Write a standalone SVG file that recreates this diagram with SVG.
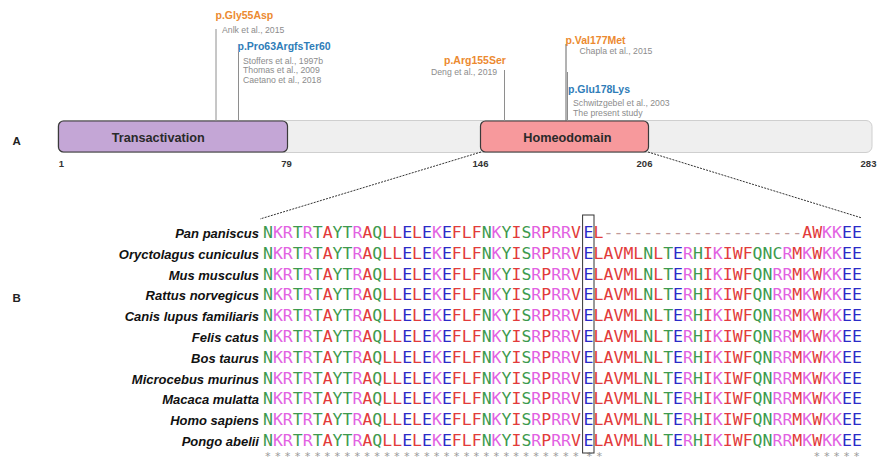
<svg xmlns="http://www.w3.org/2000/svg" width="877" height="463" viewBox="0 0 877 463">
<style>
.mut{font-family:"Liberation Sans",Arial,sans-serif;font-weight:bold;font-size:10.5px}
.or{fill:#ec8a30}
.bl{fill:#2f7db8}
.ref{font-family:"Liberation Sans",Arial,sans-serif;font-size:8.7px;fill:#8c8c8c}
.stem{stroke:#8e8e8e;stroke-width:1}
.num{font-family:"Liberation Sans",Arial,sans-serif;font-weight:bold;font-size:9.5px;fill:#333;text-anchor:middle}
.dom{stroke:#3a3a3a;stroke-width:1.2}
.domlab{font-family:"Liberation Sans",Arial,sans-serif;font-weight:bold;font-size:12.7px;fill:#2a2a2a}
.panel{font-family:"Liberation Sans",Arial,sans-serif;font-weight:bold;font-size:11.5px;fill:#222}
.sp{font-family:"Liberation Sans",Arial,sans-serif;font-style:italic;font-weight:bold;font-size:13px;text-anchor:end;fill:#111}
.seq{font-family:"DejaVu Sans Mono",monospace;font-size:16.5px}
.g{fill:#3d9a4e}.m{fill:#e262e2}.r{fill:#e23b3b}.b{fill:#2b2bc8}.gap{fill:#c09a9a}
.star{font-family:"DejaVu Sans Mono",monospace;font-size:11px;letter-spacing:3.31px;fill:#9a9a9a}
.zoomln{stroke:#333;stroke-width:1;stroke-dasharray:2 1.2;fill:none}
</style>

<g id="panel-labels">
<text class="panel" x="12.5" y="144.5">A</text>
<text class="panel" x="12.5" y="302">B</text>
</g>

<g id="protein-bar">
<rect x="58" y="120.5" width="814" height="32" rx="6" fill="#efefef" stroke="#cfcfcf"/>
</g>
<g id="transactivation">
<rect class="dom" x="58.5" y="121" width="229" height="31" rx="5" fill="#c4a6d6"/>
<text class="domlab" x="111.7" y="141.7">Transactivation</text>
</g>
<g id="homeodomain">
<rect class="dom" x="480.5" y="121" width="168" height="31" rx="5" fill="#f7999c"/>
<text class="domlab" x="523.3" y="141.7">Homeodomain</text>
</g>
<g id="positions">
<text class="num" x="61.5" y="167">1</text>
<text class="num" x="286.5" y="167">79</text>
<text class="num" x="480.5" y="167">146</text>
<text class="num" x="644.5" y="167">206</text>
<text class="num" x="868.5" y="167">283</text>
</g>

<g id="connectors">
<line class="stem" x1="216" y1="29" x2="216" y2="121"/>
<line class="stem" x1="238.5" y1="52" x2="238.5" y2="121"/>
<line class="stem" x1="504.5" y1="70" x2="504.5" y2="121"/>
<line class="stem" x1="566" y1="44" x2="566" y2="121" style="stroke:#666"/>
<line class="stem" x1="567.5" y1="72" x2="567.5" y2="121"/>
<path class="zoomln" d="M481,152 L260,219"/>
<path class="zoomln" d="M648,152 L862,218"/>
</g>

<g id="mut-gly55asp">
<text class="mut or" x="215.5" y="19">p.Gly55Asp</text>
<text class="ref" x="222" y="32.5">Anlk et al., 2015</text>
</g>
<g id="mut-pro63">
<text class="mut bl" x="237.5" y="50">p.Pro63ArgfsTer60</text>
<text class="ref" x="243" y="63.5">Stoffers et al., 1997b</text>
<text class="ref" x="243" y="73.3">Thomas et al., 2009</text>
<text class="ref" x="243" y="83.1">Caetano et al., 2018</text>
</g>
<g id="mut-arg155ser">
<text class="mut or" x="444" y="63.5">p.Arg155Ser</text>
<text class="ref" x="431" y="75">Deng et al., 2019</text>
</g>
<g id="mut-val177met">
<text class="mut or" x="565.5" y="44">p.Val177Met</text>
<text class="ref" x="579.5" y="53.5">Chapla et al., 2015</text>
</g>
<g id="mut-glu178lys">
<text class="mut bl" x="568" y="93">p.Glu178Lys</text>
<text class="ref" x="573" y="105.5">Schwitzgebel et al., 2003</text>
<text class="ref" x="573" y="115.5">The present study</text>
</g>

<g id="species">
<text class="sp" x="259" y="238">Pan paniscus</text>
<text class="sp" x="259" y="258.8">Oryctolagus cuniculus</text>
<text class="sp" x="259" y="279.6">Mus musculus</text>
<text class="sp" x="259" y="300.4">Rattus norvegicus</text>
<text class="sp" x="259" y="321.2">Canis lupus familiaris</text>
<text class="sp" x="259" y="342">Felis catus</text>
<text class="sp" x="259" y="362.8">Bos taurus</text>
<text class="sp" x="259" y="383.6">Microcebus murinus</text>
<text class="sp" x="259" y="404.4">Macaca mulatta</text>
<text class="sp" x="259" y="425.2">Homo sapiens</text>
<text class="sp" x="259" y="446">Pongo abelii</text>
</g>

<g id="alignment">
<text class="seq" x="263" y="238"><tspan class="g">N</tspan><tspan class="m">KR</tspan><tspan class="g">T</tspan><tspan class="m">R</tspan><tspan class="g">T</tspan><tspan class="r">A</tspan><tspan class="g">YT</tspan><tspan class="m">R</tspan><tspan class="r">A</tspan><tspan class="g">Q</tspan><tspan class="r">LL</tspan><tspan class="b">E</tspan><tspan class="r">L</tspan><tspan class="b">E</tspan><tspan class="m">K</tspan><tspan class="b">E</tspan><tspan class="r">FLF</tspan><tspan class="g">N</tspan><tspan class="m">K</tspan><tspan class="g">Y</tspan><tspan class="r">I</tspan><tspan class="g">S</tspan><tspan class="m">R</tspan><tspan class="r">P</tspan><tspan class="m">RR</tspan><tspan class="r">V</tspan><tspan class="b" x="583.4">E</tspan><tspan class="r" x="593.6">L</tspan><tspan class="gap">--------------------</tspan><tspan class="r">AW</tspan><tspan class="m">KK</tspan><tspan class="b">EE</tspan></text>
<text class="seq" x="263" y="258.8"><tspan class="g">N</tspan><tspan class="m">KR</tspan><tspan class="g">T</tspan><tspan class="m">R</tspan><tspan class="g">T</tspan><tspan class="r">A</tspan><tspan class="g">YT</tspan><tspan class="m">R</tspan><tspan class="r">A</tspan><tspan class="g">Q</tspan><tspan class="r">LL</tspan><tspan class="b">E</tspan><tspan class="r">L</tspan><tspan class="b">E</tspan><tspan class="m">K</tspan><tspan class="b">E</tspan><tspan class="r">FLF</tspan><tspan class="g">N</tspan><tspan class="m">K</tspan><tspan class="g">Y</tspan><tspan class="r">I</tspan><tspan class="g">S</tspan><tspan class="m">R</tspan><tspan class="r">P</tspan><tspan class="m">RR</tspan><tspan class="r">V</tspan><tspan class="b" x="583.4">E</tspan><tspan class="r" x="593.6">LAVML</tspan><tspan class="g">N</tspan><tspan class="r">L</tspan><tspan class="g">T</tspan><tspan class="b">E</tspan><tspan class="m">R</tspan><tspan class="g">H</tspan><tspan class="r">I</tspan><tspan class="m">K</tspan><tspan class="r">IWF</tspan><tspan class="g">QNC</tspan><tspan class="m">R</tspan><tspan class="r">M</tspan><tspan class="m">K</tspan><tspan class="r">W</tspan><tspan class="m">KK</tspan><tspan class="b">EE</tspan></text>
<text class="seq" x="263" y="279.6"><tspan class="g">N</tspan><tspan class="m">KR</tspan><tspan class="g">T</tspan><tspan class="m">R</tspan><tspan class="g">T</tspan><tspan class="r">A</tspan><tspan class="g">YT</tspan><tspan class="m">R</tspan><tspan class="r">A</tspan><tspan class="g">Q</tspan><tspan class="r">LL</tspan><tspan class="b">E</tspan><tspan class="r">L</tspan><tspan class="b">E</tspan><tspan class="m">K</tspan><tspan class="b">E</tspan><tspan class="r">FLF</tspan><tspan class="g">N</tspan><tspan class="m">K</tspan><tspan class="g">Y</tspan><tspan class="r">I</tspan><tspan class="g">S</tspan><tspan class="m">R</tspan><tspan class="r">P</tspan><tspan class="m">RR</tspan><tspan class="r">V</tspan><tspan class="b" x="583.4">E</tspan><tspan class="r" x="593.6">LAVML</tspan><tspan class="g">N</tspan><tspan class="r">L</tspan><tspan class="g">T</tspan><tspan class="b">E</tspan><tspan class="m">R</tspan><tspan class="g">H</tspan><tspan class="r">I</tspan><tspan class="m">K</tspan><tspan class="r">IWF</tspan><tspan class="g">QN</tspan><tspan class="m">RR</tspan><tspan class="r">M</tspan><tspan class="m">K</tspan><tspan class="r">W</tspan><tspan class="m">KK</tspan><tspan class="b">EE</tspan></text>
<text class="seq" x="263" y="300.4"><tspan class="g">N</tspan><tspan class="m">KR</tspan><tspan class="g">T</tspan><tspan class="m">R</tspan><tspan class="g">T</tspan><tspan class="r">A</tspan><tspan class="g">YT</tspan><tspan class="m">R</tspan><tspan class="r">A</tspan><tspan class="g">Q</tspan><tspan class="r">LL</tspan><tspan class="b">E</tspan><tspan class="r">L</tspan><tspan class="b">E</tspan><tspan class="m">K</tspan><tspan class="b">E</tspan><tspan class="r">FLF</tspan><tspan class="g">N</tspan><tspan class="m">K</tspan><tspan class="g">Y</tspan><tspan class="r">I</tspan><tspan class="g">S</tspan><tspan class="m">R</tspan><tspan class="r">P</tspan><tspan class="m">RR</tspan><tspan class="r">V</tspan><tspan class="b" x="583.4">E</tspan><tspan class="r" x="593.6">LAVML</tspan><tspan class="g">N</tspan><tspan class="r">L</tspan><tspan class="g">T</tspan><tspan class="b">E</tspan><tspan class="m">R</tspan><tspan class="g">H</tspan><tspan class="r">I</tspan><tspan class="m">K</tspan><tspan class="r">IWF</tspan><tspan class="g">QN</tspan><tspan class="m">RR</tspan><tspan class="r">M</tspan><tspan class="m">K</tspan><tspan class="r">W</tspan><tspan class="m">KK</tspan><tspan class="b">EE</tspan></text>
<text class="seq" x="263" y="321.2"><tspan class="g">N</tspan><tspan class="m">KR</tspan><tspan class="g">T</tspan><tspan class="m">R</tspan><tspan class="g">T</tspan><tspan class="r">A</tspan><tspan class="g">YT</tspan><tspan class="m">R</tspan><tspan class="r">A</tspan><tspan class="g">Q</tspan><tspan class="r">LL</tspan><tspan class="b">E</tspan><tspan class="r">L</tspan><tspan class="b">E</tspan><tspan class="m">K</tspan><tspan class="b">E</tspan><tspan class="r">FLF</tspan><tspan class="g">N</tspan><tspan class="m">K</tspan><tspan class="g">Y</tspan><tspan class="r">I</tspan><tspan class="g">S</tspan><tspan class="m">R</tspan><tspan class="r">P</tspan><tspan class="m">RR</tspan><tspan class="r">V</tspan><tspan class="b" x="583.4">E</tspan><tspan class="r" x="593.6">LAVML</tspan><tspan class="g">N</tspan><tspan class="r">L</tspan><tspan class="g">T</tspan><tspan class="b">E</tspan><tspan class="m">R</tspan><tspan class="g">H</tspan><tspan class="r">I</tspan><tspan class="m">K</tspan><tspan class="r">IWF</tspan><tspan class="g">QN</tspan><tspan class="m">RR</tspan><tspan class="r">M</tspan><tspan class="m">K</tspan><tspan class="r">W</tspan><tspan class="m">KK</tspan><tspan class="b">EE</tspan></text>
<text class="seq" x="263" y="342"><tspan class="g">N</tspan><tspan class="m">KR</tspan><tspan class="g">T</tspan><tspan class="m">R</tspan><tspan class="g">T</tspan><tspan class="r">A</tspan><tspan class="g">YT</tspan><tspan class="m">R</tspan><tspan class="r">A</tspan><tspan class="g">Q</tspan><tspan class="r">LL</tspan><tspan class="b">E</tspan><tspan class="r">L</tspan><tspan class="b">E</tspan><tspan class="m">K</tspan><tspan class="b">E</tspan><tspan class="r">FLF</tspan><tspan class="g">N</tspan><tspan class="m">K</tspan><tspan class="g">Y</tspan><tspan class="r">I</tspan><tspan class="g">S</tspan><tspan class="m">R</tspan><tspan class="r">P</tspan><tspan class="m">RR</tspan><tspan class="r">V</tspan><tspan class="b" x="583.4">E</tspan><tspan class="r" x="593.6">LAVML</tspan><tspan class="g">N</tspan><tspan class="r">L</tspan><tspan class="g">T</tspan><tspan class="b">E</tspan><tspan class="m">R</tspan><tspan class="g">H</tspan><tspan class="r">I</tspan><tspan class="m">K</tspan><tspan class="r">IWF</tspan><tspan class="g">QN</tspan><tspan class="m">RR</tspan><tspan class="r">M</tspan><tspan class="m">K</tspan><tspan class="r">W</tspan><tspan class="m">KK</tspan><tspan class="b">EE</tspan></text>
<text class="seq" x="263" y="362.8"><tspan class="g">N</tspan><tspan class="m">KR</tspan><tspan class="g">T</tspan><tspan class="m">R</tspan><tspan class="g">T</tspan><tspan class="r">A</tspan><tspan class="g">YT</tspan><tspan class="m">R</tspan><tspan class="r">A</tspan><tspan class="g">Q</tspan><tspan class="r">LL</tspan><tspan class="b">E</tspan><tspan class="r">L</tspan><tspan class="b">E</tspan><tspan class="m">K</tspan><tspan class="b">E</tspan><tspan class="r">FLF</tspan><tspan class="g">N</tspan><tspan class="m">K</tspan><tspan class="g">Y</tspan><tspan class="r">I</tspan><tspan class="g">S</tspan><tspan class="m">R</tspan><tspan class="r">P</tspan><tspan class="m">RR</tspan><tspan class="r">V</tspan><tspan class="b" x="583.4">E</tspan><tspan class="r" x="593.6">LAVML</tspan><tspan class="g">N</tspan><tspan class="r">L</tspan><tspan class="g">T</tspan><tspan class="b">E</tspan><tspan class="m">R</tspan><tspan class="g">H</tspan><tspan class="r">I</tspan><tspan class="m">K</tspan><tspan class="r">IWF</tspan><tspan class="g">QN</tspan><tspan class="m">RR</tspan><tspan class="r">M</tspan><tspan class="m">K</tspan><tspan class="r">W</tspan><tspan class="m">KK</tspan><tspan class="b">EE</tspan></text>
<text class="seq" x="263" y="383.6"><tspan class="g">N</tspan><tspan class="m">KR</tspan><tspan class="g">T</tspan><tspan class="m">R</tspan><tspan class="g">T</tspan><tspan class="r">A</tspan><tspan class="g">YT</tspan><tspan class="m">R</tspan><tspan class="r">A</tspan><tspan class="g">Q</tspan><tspan class="r">LL</tspan><tspan class="b">E</tspan><tspan class="r">L</tspan><tspan class="b">E</tspan><tspan class="m">K</tspan><tspan class="b">E</tspan><tspan class="r">FLF</tspan><tspan class="g">N</tspan><tspan class="m">K</tspan><tspan class="g">Y</tspan><tspan class="r">I</tspan><tspan class="g">S</tspan><tspan class="m">R</tspan><tspan class="r">P</tspan><tspan class="m">RR</tspan><tspan class="r">V</tspan><tspan class="b" x="583.4">E</tspan><tspan class="r" x="593.6">LAVML</tspan><tspan class="g">N</tspan><tspan class="r">L</tspan><tspan class="g">T</tspan><tspan class="b">E</tspan><tspan class="m">R</tspan><tspan class="g">H</tspan><tspan class="r">I</tspan><tspan class="m">K</tspan><tspan class="r">IWF</tspan><tspan class="g">QN</tspan><tspan class="m">RR</tspan><tspan class="r">M</tspan><tspan class="m">K</tspan><tspan class="r">W</tspan><tspan class="m">KK</tspan><tspan class="b">EE</tspan></text>
<text class="seq" x="263" y="404.4"><tspan class="g">N</tspan><tspan class="m">KR</tspan><tspan class="g">T</tspan><tspan class="m">R</tspan><tspan class="g">T</tspan><tspan class="r">A</tspan><tspan class="g">YT</tspan><tspan class="m">R</tspan><tspan class="r">A</tspan><tspan class="g">Q</tspan><tspan class="r">LL</tspan><tspan class="b">E</tspan><tspan class="r">L</tspan><tspan class="b">E</tspan><tspan class="m">K</tspan><tspan class="b">E</tspan><tspan class="r">FLF</tspan><tspan class="g">N</tspan><tspan class="m">K</tspan><tspan class="g">Y</tspan><tspan class="r">I</tspan><tspan class="g">S</tspan><tspan class="m">R</tspan><tspan class="r">P</tspan><tspan class="m">RR</tspan><tspan class="r">V</tspan><tspan class="b" x="583.4">E</tspan><tspan class="r" x="593.6">LAVML</tspan><tspan class="g">N</tspan><tspan class="r">L</tspan><tspan class="g">T</tspan><tspan class="b">E</tspan><tspan class="m">R</tspan><tspan class="g">H</tspan><tspan class="r">I</tspan><tspan class="m">K</tspan><tspan class="r">IWF</tspan><tspan class="g">QN</tspan><tspan class="m">RR</tspan><tspan class="r">M</tspan><tspan class="m">K</tspan><tspan class="r">W</tspan><tspan class="m">KK</tspan><tspan class="b">EE</tspan></text>
<text class="seq" x="263" y="425.2"><tspan class="g">N</tspan><tspan class="m">KR</tspan><tspan class="g">T</tspan><tspan class="m">R</tspan><tspan class="g">T</tspan><tspan class="r">A</tspan><tspan class="g">YT</tspan><tspan class="m">R</tspan><tspan class="r">A</tspan><tspan class="g">Q</tspan><tspan class="r">LL</tspan><tspan class="b">E</tspan><tspan class="r">L</tspan><tspan class="b">E</tspan><tspan class="m">K</tspan><tspan class="b">E</tspan><tspan class="r">FLF</tspan><tspan class="g">N</tspan><tspan class="m">K</tspan><tspan class="g">Y</tspan><tspan class="r">I</tspan><tspan class="g">S</tspan><tspan class="m">R</tspan><tspan class="r">P</tspan><tspan class="m">RR</tspan><tspan class="r">V</tspan><tspan class="b" x="583.4">E</tspan><tspan class="r" x="593.6">LAVML</tspan><tspan class="g">N</tspan><tspan class="r">L</tspan><tspan class="g">T</tspan><tspan class="b">E</tspan><tspan class="m">R</tspan><tspan class="g">H</tspan><tspan class="r">I</tspan><tspan class="m">K</tspan><tspan class="r">IWF</tspan><tspan class="g">QN</tspan><tspan class="m">RR</tspan><tspan class="r">M</tspan><tspan class="m">K</tspan><tspan class="r">W</tspan><tspan class="m">KK</tspan><tspan class="b">EE</tspan></text>
<text class="seq" x="263" y="446"><tspan class="g">N</tspan><tspan class="m">KR</tspan><tspan class="g">T</tspan><tspan class="m">R</tspan><tspan class="g">T</tspan><tspan class="r">A</tspan><tspan class="g">YT</tspan><tspan class="m">R</tspan><tspan class="r">A</tspan><tspan class="g">Q</tspan><tspan class="r">LL</tspan><tspan class="b">E</tspan><tspan class="r">L</tspan><tspan class="b">E</tspan><tspan class="m">K</tspan><tspan class="b">E</tspan><tspan class="r">FLF</tspan><tspan class="g">N</tspan><tspan class="m">K</tspan><tspan class="g">Y</tspan><tspan class="r">I</tspan><tspan class="g">S</tspan><tspan class="m">R</tspan><tspan class="r">P</tspan><tspan class="m">RR</tspan><tspan class="r">V</tspan><tspan class="b" x="583.4">E</tspan><tspan class="r" x="593.6">LAVML</tspan><tspan class="g">N</tspan><tspan class="r">L</tspan><tspan class="g">T</tspan><tspan class="b">E</tspan><tspan class="m">R</tspan><tspan class="g">H</tspan><tspan class="r">I</tspan><tspan class="m">K</tspan><tspan class="r">IWF</tspan><tspan class="g">QN</tspan><tspan class="m">RR</tspan><tspan class="r">M</tspan><tspan class="m">K</tspan><tspan class="r">W</tspan><tspan class="m">KK</tspan><tspan class="b">EE</tspan></text>
<text class="star" x="264.5" y="460">********************************</text>
<text class="star" x="586" y="460">**</text>
<text class="star" x="813.5" y="460">*****</text>
</g>

<g id="highlight-box">
<rect x="582.6" y="215" width="11.4" height="238" fill="none" stroke="#333" stroke-width="1"/>
</g>
</svg>
